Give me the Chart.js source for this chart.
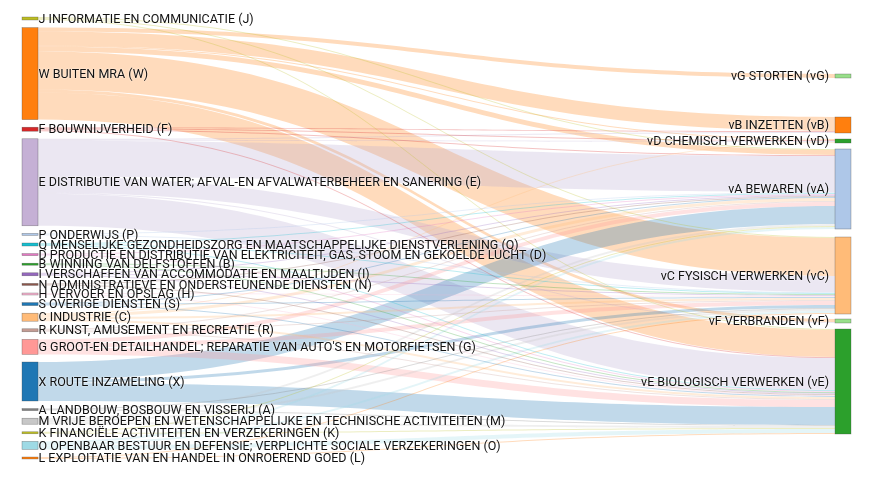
<!DOCTYPE html>
<html lang="nl">
<head>
  <meta charset="UTF-8">
  <title>Sankey afval</title>
  <script src="https://cdn.jsdelivr.net/npm/chart.js"></script>
  <style>
    html, body { margin: 0; padding: 0; background: #fff; }
    .chart-container { position: relative; width: 879px; height: 488px; }
  </style>
</head>
<body>
  <div class="chart-container">
    <canvas id="sankeyChart"></canvas>
  </div>
  <script>
    // Bronnen (links)
    const sourceNames = [
      'J INFORMATIE EN COMMUNICATIE (J)', 'W BUITEN MRA (W)', 'F BOUWNIJVERHEID (F)',
      'E DISTRIBUTIE VAN WATER; AFVAL-EN AFVALWATERBEHEER EN SANERING (E)',
      'P ONDERWIJS (P)', 'Q MENSELIJKE GEZONDHEIDSZORG EN MAATSCHAPPELIJKE DIENSTVERLENING (Q)',
      'D PRODUCTIE EN DISTRIBUTIE VAN ELEKTRICITEIT, GAS, STOOM EN GEKOELDE LUCHT (D)',
      'B WINNING VAN DELFSTOFFEN (B)', 'I VERSCHAFFEN VAN ACCOMMODATIE EN MAALTIJDEN (I)',
      'N ADMINISTRATIEVE EN ONDERSTEUNENDE DIENSTEN (N)', 'H VERVOER EN OPSLAG (H)',
      'S OVERIGE DIENSTEN (S)', 'C INDUSTRIE (C)', 'R KUNST, AMUSEMENT EN RECREATIE (R)',
      "G GROOT-EN DETAILHANDEL; REPARATIE VAN AUTO'S EN MOTORFIETSEN (G)",
      'X ROUTE INZAMELING (X)', 'A LANDBOUW, BOSBOUW EN VISSERIJ (A)',
      'M VRIJE BEROEPEN EN WETENSCHAPPELIJKE EN TECHNISCHE ACTIVITEITEN (M)',
      'K FINANCIËLE ACTIVITEITEN EN VERZEKERINGEN (K)',
      'O OPENBAAR BESTUUR EN DEFENSIE; VERPLICHTE SOCIALE VERZEKERINGEN (O)',
      'L EXPLOITATIE VAN EN HANDEL IN ONROEREND GOED (L)'
    ];
    const sourceColors = ['#bcbd22', '#ff7f0e', '#d62728', '#c5b0d5', '#aec7e8', '#17becf', '#e377c2',
      '#2ca02c', '#9467bd', '#8c564b', '#f7b6d2', '#1f77b4', '#ffbb78', '#c49c94', '#ff9896',
      '#1f77b4', '#7f7f7f', '#c7c7c7', '#bcbd22', '#9edae5', '#ff7f0e'];

    // Doelen (rechts)
    const targetNames = ['vG STORTEN (vG)', 'vB INZETTEN (vB)', 'vD CHEMISCH VERWERKEN (vD)',
      'vA BEWAREN (vA)', 'vC FYSISCH VERWERKEN (vC)', 'vF VERBRANDEN (vF)', 'vE BIOLOGISCH VERWERKEN (vE)'];
    const targetColors = ['#98df8a', '#ff7f0e', '#2ca02c', '#aec7e8', '#ffbb78', '#98df8a', '#2ca02c'];

    // Stromen: bron-index, doel-index, waarde
    const linkSource = [1, 1, 1, 1, 1, 1, 1,  3, 3, 3, 3, 3, 3,  15, 15, 15,  14, 14, 14,  2, 2, 2, 2,
      12, 12, 12, 12,  17, 17, 17,  19, 19, 19,  0, 0, 0,  4, 4,  5, 5, 5,  6, 6,  7, 7,  8, 8, 8,
      9, 9,  10, 10,  11, 11, 11,  13, 13, 13,  16, 16,  18, 18,  20, 20];
    const linkTarget = [0, 1, 2, 3, 4, 5, 6,  1, 2, 3, 4, 5, 6,  3, 4, 6,  3, 4, 6,  1, 2, 3, 6,
      2, 3, 4, 6,  3, 4, 6,  3, 4, 6,  3, 4, 6,  3, 4,  3, 4, 6,  3, 6,  4, 6,  3, 4, 6,
      3, 6,  4, 6,  3, 4, 6,  3, 4, 6,  4, 6,  3, 6,  4, 6];
    const linkValue = [4, 14, 1, 5, 38, 3, 27,  1, 1, 36, 16, 1, 32,  18, 3, 18,  4, 4, 7,  1, 1, 1, 1,
      1, 3, 2, 2,  2, 2, 2,  2, 2, 4,  1, 1, 1,  1, 1,  1, 1, 1,  1, 1,  1, 1,  1, 1, 1,
      1, 1,  1, 1,  1, 1, 1,  1, 1, 1,  1, 1,  1, 1,  1, 1];

    // Indeling (in schaal-eenheden)
    const leftX0 = 22, leftX1 = 38, rightX0 = 835, rightX1 = 851;
    const leftTop = 17, leftBottom = 459, rightTop = 74;
    const rightGaps = [39, 6, 6, 8, 5, 6];

    function column(names, idxKey, top, bottom, gaps) {
      const sums = names.map(() => 0);
      linkValue.forEach((v, i) => { sums[idxKey[i]] += v; });
      const total = sums.reduce((a, b) => a + b, 0);
      const pad = gaps ? null : (bottom - top - total) / (names.length - 1);
      let y = top;
      return sums.map((s, k) => {
        const n = { y0: y, y1: y + s, off: y };
        y += s + (gaps ? (gaps[k] || 0) : pad);
        return n;
      });
    }

    function hexA(hex, a) {
      const r = parseInt(hex.slice(1, 3), 16), g = parseInt(hex.slice(3, 5), 16), b = parseInt(hex.slice(5, 7), 16);
      return `rgba(${r},${g},${b},${a})`;
    }

    const sankeyPlugin = {
      id: 'sankey',
      afterDatasetsDraw(chart) {
        const ctx = chart.ctx, sx = chart.scales.x, sy = chart.scales.y;
        const left = column(sourceNames, linkSource, leftTop, leftBottom);
        const right = column(targetNames, linkTarget, rightTop, 0, rightGaps);
        // volgorde van uitgaande/inkomende stromen
        const order = linkValue.map((v, i) => i);
        const outOrder = order.slice().sort((a, b) => linkTarget[a] - linkTarget[b]);
        const inOrder = order.slice().sort((a, b) => linkSource[a] - linkSource[b]);
        const ys = {}, yt = {};
        outOrder.forEach(i => { const n = left[linkSource[i]]; ys[i] = n.off; n.off += linkValue[i]; });
        inOrder.forEach(i => { const n = right[linkTarget[i]]; yt[i] = n.off; n.off += linkValue[i]; });

        const xa = sx.getPixelForValue(leftX1), xb = sx.getPixelForValue(rightX0), xm = (xa + xb) / 2;
        ctx.save();
        order.forEach(i => {
          const a0 = sy.getPixelForValue(ys[i]), a1 = sy.getPixelForValue(ys[i] + linkValue[i]);
          const b0 = sy.getPixelForValue(yt[i]), b1 = sy.getPixelForValue(yt[i] + linkValue[i]);
          ctx.beginPath();
          ctx.moveTo(xa, a0);
          ctx.bezierCurveTo(xm, a0, xm, b0, xb, b0);
          ctx.lineTo(xb, b1);
          ctx.bezierCurveTo(xm, b1, xm, a1, xa, a1);
          ctx.closePath();
          const c = sourceColors[linkSource[i]];
          ctx.fillStyle = hexA(c === '#c5b0d5' ? '#b8a8d0' : c, 0.28);
          ctx.fill();
        });

        function drawNodes(nodes, colors, x0, x1) {
          nodes.forEach((n, k) => {
            const px0 = sx.getPixelForValue(x0), px1 = sx.getPixelForValue(x1);
            const py0 = sy.getPixelForValue(n.y0), py1 = sy.getPixelForValue(n.y1);
            ctx.fillStyle = colors[k];
            ctx.fillRect(px0, py0, px1 - px0, Math.max(py1 - py0, 1.5));
            ctx.strokeStyle = 'rgba(68,68,68,0.6)';
            ctx.lineWidth = 0.5;
            ctx.strokeRect(px0, py0, px1 - px0, Math.max(py1 - py0, 1.5));
          });
        }
        drawNodes(left, sourceColors, leftX0, leftX1);
        drawNodes(right, targetColors, rightX0, rightX1);

        ctx.font = '12.5px Roboto, "Open Sans", sans-serif';
        ctx.textBaseline = 'middle';
        ctx.fillStyle = '#111';
        ctx.shadowColor = '#fff';
        ctx.shadowBlur = 2;
        ctx.textAlign = 'left';
        left.forEach((n, k) => {
          ctx.fillText(sourceNames[k], sx.getPixelForValue(leftX1) + 0.5, sy.getPixelForValue((n.y0 + n.y1) / 2) + 1);
        });
        ctx.textAlign = 'right';
        right.forEach((n, k) => {
          ctx.fillText(targetNames[k], sx.getPixelForValue(rightX0) - 6, sy.getPixelForValue((n.y0 + n.y1) / 2) + 1);
        });
        ctx.restore();
      }
    };

    new Chart(document.getElementById('sankeyChart').getContext('2d'), {
      type: 'scatter',
      data: { datasets: [{ data: [] }] },
      options: {
        responsive: true,
        maintainAspectRatio: false,
        animation: false,
        layout: { padding: 0 },
        plugins: { legend: { display: false }, tooltip: { enabled: false } },
        scales: {
          x: { type: 'linear', min: 0, max: 879, display: false },
          y: { type: 'linear', min: 0, max: 488, reverse: true, display: false }
        }
      },
      plugins: [sankeyPlugin]
    });
  </script>
</body>
</html>
